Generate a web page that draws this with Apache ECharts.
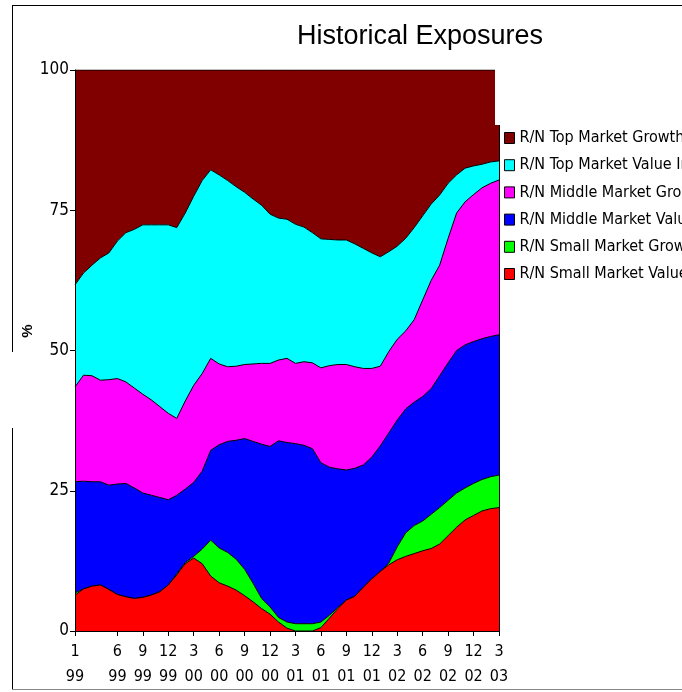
<!DOCTYPE html>
<html>
<head>
<meta charset="utf-8">
<script src="https://cdn.jsdelivr.net/npm/echarts@6/dist/echarts.min.js"></script>
<style>
html,body{margin:0;padding:0;background:#fff;}
#chart{width:682px;height:692px;}
</style>
</head>
<body>
<div id="chart"></div>
<script>
// Monthly categories, Jan 1999 .. Mar 2003
const categories = [
  "1/99","2/99","3/99","4/99","5/99","6/99","7/99","8/99","9/99","10/99","11/99","12/99",
  "1/00","2/00","3/00","4/00","5/00","6/00","7/00","8/00","9/00","10/00","11/00","12/00",
  "1/01","2/01","3/01","4/01","5/01","6/01","7/01","8/01","9/01","10/01","11/01","12/01",
  "1/02","2/02","3/02","4/02","5/02","6/02","7/02","8/02","9/02","10/02","11/02","12/02",
  "1/03","2/03","3/03"
];
// Tick labels shown on the x axis
const tickLabels = ["1/99","6/99","9/99","12/99","3/00","6/00","9/00","12/00","3/01","6/01","9/01","12/01","3/02","6/02","9/02","12/02","3/03"];
const yTicks = [0, 25, 50, 75, 100];

// Series values (% exposure), stacked bottom to top
const smallValue = [6.4,7.5,8.0,8.2,7.4,6.5,6.1,5.8,6.0,6.4,7.0,8.2,10.0,12.0,13.0,12.0,9.8,8.6,8.0,7.3,6.3,5.2,4.0,3.0,1.6,0.5,0,0,0,0.6,2.3,4.0,5.5,6.2,7.8,9.3,10.6,11.8,12.7,13.3,13.8,14.3,14.7,15.5,17.0,18.5,19.8,20.6,21.4,21.8,22.0];
const smallGrowth = [0.4,0,0,0,0,0,0,0,0,0,0,0,0.2,0.2,0.3,2.6,6.4,6.2,6.0,5.5,4.7,3.3,1.8,1.3,0.8,1.1,1.3,1.3,1.3,1.0,0.5,0.2,0,0,0,0,0,0.3,2.3,4.2,5.0,5.3,6.1,6.5,6.3,6.1,5.7,5.7,5.6,5.7,5.8];
const middleValue = [19.8,19.2,18.6,18.4,18.6,19.7,20.2,19.7,18.6,17.8,16.8,15.2,14.0,13.1,13.2,13.9,16.0,18.4,19.8,21.2,23.3,25.3,27.5,28.6,31.5,32.0,32.1,31.8,31.2,28.4,26.4,24.7,23.2,22.8,21.8,21.7,22.4,23.2,22.6,22.1,22.0,22.2,22.4,23.5,24.5,25.4,25.5,25.3,25.1,25.0,25.0];
const middleGrowth = [16.9,18.9,18.9,18.1,18.8,18.8,18.1,17.8,17.6,17.0,16.2,15.4,13.7,15.7,17.3,17.4,16.4,14.4,13.3,13.2,13.2,13.8,14.4,14.8,14.4,15.0,14.3,14.9,15.3,16.9,18.1,18.6,18.8,18.1,17.2,15.8,14.2,14.5,14.4,13.9,14.7,17.2,19.3,19.7,22.2,24.5,25.5,26.2,26.9,27.3,27.6];
const topValue = [18.2,18.2,19.7,21.8,22.6,24.5,26.6,28.3,30.2,31.2,32.4,33.6,34.0,33.5,33.7,34.4,33.6,33.7,33.2,32.0,30.7,29.4,28.2,26.6,25.3,24.8,24.8,24.0,23.2,23.0,22.5,22.2,22.2,21.9,21.4,20.6,19.5,17.8,16.6,16.5,16.4,15.0,13.6,12.5,9.8,6.8,6.0,5.1,4.2,3.8,3.4];
const topGrowth = [38.3,36.2,34.8,33.5,32.6,30.5,29.0,28.4,27.6,27.6,27.6,27.6,28.1,25.5,22.5,19.7,17.8,18.7,19.7,20.8,21.8,23.0,24.1,25.7,26.4,26.6,27.5,28.0,29.0,30.1,30.2,30.3,30.3,31.0,31.8,32.6,33.3,32.4,31.4,30.0,28.1,26.0,23.9,22.3,20.2,18.7,17.5,17.1,16.8,16.4,16.2];

const seriesNames = [
  "R/N Small Market Value Index",
  "R/N Small Market Growth Index",
  "R/N Middle Market Value Index",
  "R/N Middle Market Growth Index",
  "R/N Top Market Value Index",
  "R/N Top Market Growth Index"
];
const seriesData = [smallValue, smallGrowth, middleValue, middleGrowth, topValue, topGrowth];
const seriesColors = ["#ff0000", "#00ff00", "#0000ff", "#ff00ff", "#00ffff", "#800000"];

const narrow = "'DejaVu Sans Condensed', 'Liberation Sans Narrow', 'Liberation Sans', sans-serif";

const chart = echarts.init(document.getElementById('chart'), null, {renderer: 'canvas'});

const series = seriesNames.map((name, i) => ({
  name: name,
  type: 'line',
  stack: 'total',
  data: seriesData[i],
  symbol: 'none',
  showSymbol: false,
  smooth: false,
  color: seriesColors[i],
  itemStyle: {color: seriesColors[i]},
  lineStyle: {color: '#000', width: 1},
  areaStyle: {color: seriesColors[i], opacity: 1},
  emphasis: {disabled: true},
  z: 10 - i
}));

const option = {
  animation: false,
  backgroundColor: '#fff',
  grid: {left: 75, right: 183, top: 70, bottom: 61, containLabel: false},
  legend: {
    orient: 'vertical',
    left: 504,
    top: 129,
    padding: 0,
    icon: 'rect',
    itemWidth: 10,
    itemHeight: 11,
    itemGap: 9.2,
    selectedMode: false,
    data: seriesNames.slice().reverse(),
    itemStyle: {borderColor: '#000', borderWidth: 1},
    textStyle: {color: '#000', fontFamily: narrow, fontSize: 16, lineHeight: 18}
  },
  xAxis: {
    type: 'category',
    data: categories,
    boundaryGap: false,
    z: 20,
    axisLine: {show: true, onZero: false, lineStyle: {color: '#000', width: 1}},
    axisTick: {
      show: true, length: 5, inside: false,
      lineStyle: {color: '#000'},
      interval: (idx, val) => tickLabels.indexOf(val) >= 0
    },
    axisLabel: {
      show: true,
      margin: 8,
      color: '#000',
      fontFamily: narrow,
      fontSize: 16,
      lineHeight: 25,
      interval: (idx, val) => tickLabels.indexOf(val) >= 0,
      formatter: v => v.replace('/', '\n')
    },
    splitLine: {show: false}
  },
  yAxis: {
    type: 'value',
    min: 0,
    max: 100,
    interval: 25,
    z: 20,
    axisLine: {show: true, lineStyle: {color: '#000', width: 1}},
    axisTick: {show: true, length: 5, inside: false, lineStyle: {color: '#000'}},
    axisLabel: {
      show: true, margin: 6, color: '#000', fontFamily: narrow, fontSize: 17,
      formatter: v => (yTicks.indexOf(v) >= 0 ? String(v) : '')
    },
    splitLine: {show: false}
  },
  series: series,
  graphic: [
    // window frame
    {type: 'line', silent: true, z: 100, shape: {x1: 12.5, y1: 5, x2: 12.5, y2: 352}, style: {stroke: '#000', lineWidth: 1}},
    {type: 'line', silent: true, z: 100, shape: {x1: 12.5, y1: 428, x2: 12.5, y2: 690}, style: {stroke: '#000', lineWidth: 1}},
    {type: 'line', silent: true, z: 100, shape: {x1: 12, y1: 5.5, x2: 682, y2: 5.5}, style: {stroke: '#000', lineWidth: 1}},
    {type: 'line', silent: true, z: 100, shape: {x1: 12, y1: 689.5, x2: 682, y2: 689.5}, style: {stroke: '#888', lineWidth: 1}},
    // white cover over plot's top-right corner
    {type: 'rect', silent: true, z: 90, shape: {x: 495, y: 68, width: 187, height: 57}, style: {fill: '#fff'}},
    // right plot border
    {type: 'line', silent: true, z: 100, shape: {x1: 499.5, y1: 125, x2: 499.5, y2: 631}, style: {stroke: '#000', lineWidth: 1}},
    // title
    {type: 'text', silent: true, z: 100, x: 420, y: 37,
      style: {text: 'Historical Exposures', fill: '#000', font: "27px 'Liberation Sans', Arial, sans-serif", textAlign: 'center', textVerticalAlign: 'middle'}},
    // y axis name
    {type: 'text', silent: true, z: 100, x: 28, y: 331, rotation: Math.PI / 2,
      style: {text: '%', fill: '#000', font: "bold 15px 'Liberation Sans', Arial, sans-serif", textAlign: 'center', textVerticalAlign: 'middle'}}
  ]
};

chart.setOption(option);
</script>
</body>
</html>
